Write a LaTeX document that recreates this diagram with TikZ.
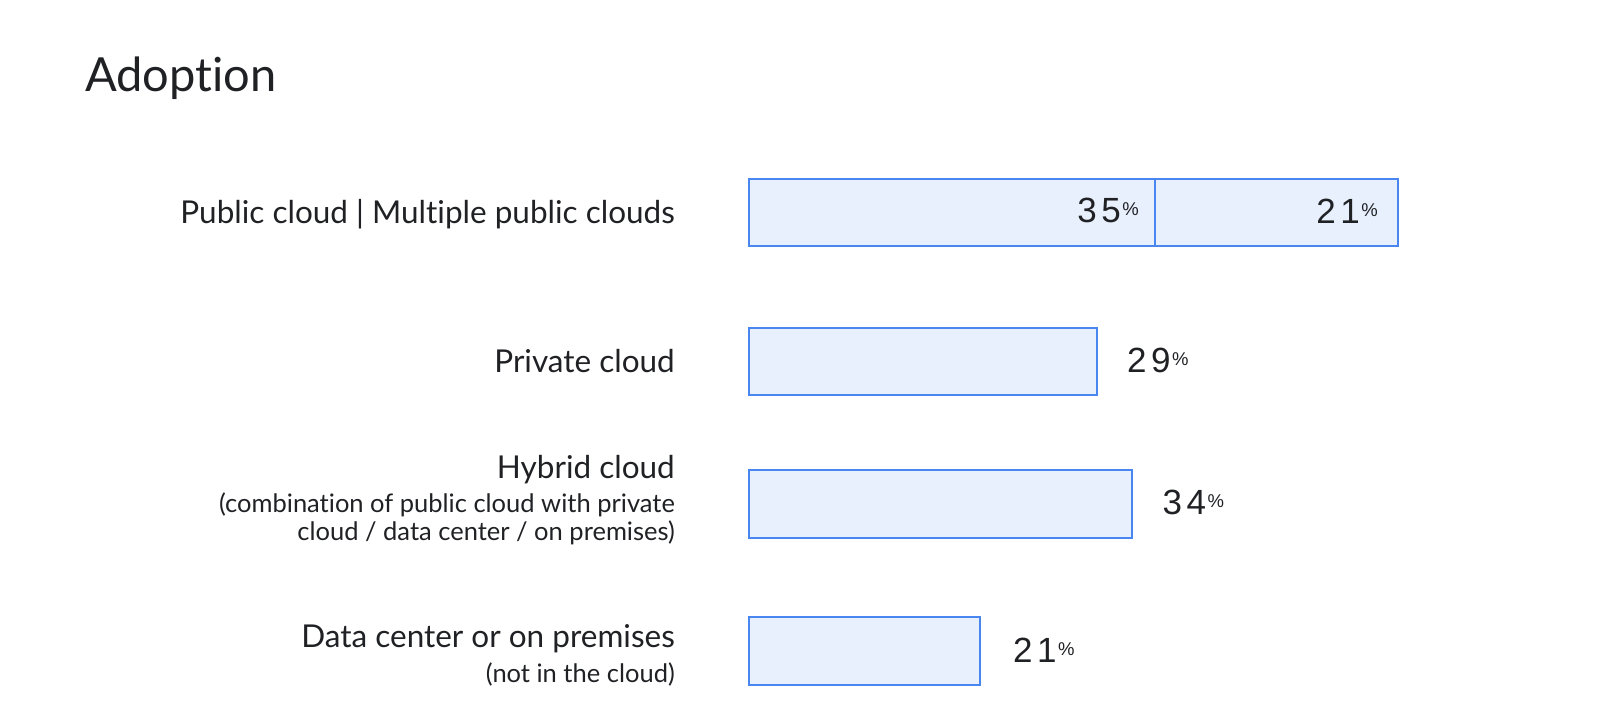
\documentclass[tikz,border=0pt]{standalone}
\usepackage{fontspec}
\setmainfont{Lato}[Ligatures={NoCommon,NoRare},RawFeature={-liga}]
\newfontfamily\numfont{Liberation Sans}
\definecolor{barfill}{HTML}{E8F0FE}
\definecolor{barline}{HTML}{4A86F0}
\definecolor{txt}{HTML}{202124}
\newcommand{\pct}[2]{{\numfont\fontsize{35}{36}\selectfont #1\kern4.5pt#2}\kern1.5pt\raisebox{6.5pt}{\numfont\fontsize{18.5}{18}\selectfont\%}}
\begin{document}
\begin{tikzpicture}[x=1pt,y=-1pt,
  bar/.style={draw=barline,fill=barfill,line width=2pt},
  lab/.style={anchor=base east,inner sep=0pt,text=txt,font=\fontsize{31.5}{36}\selectfont},
  sub/.style={anchor=base east,inner sep=0pt,text=txt,font=\fontsize{25.5}{30}\selectfont},
  val/.style={inner sep=0pt,text=txt}]
\useasboundingbox (0,0) rectangle (1600,726);
\fill[white] (0,0) rectangle (1600,726);
\node[anchor=base west,inner sep=0pt,text=txt,font=\fontsize{47}{52}\selectfont] (title) at (85,91) {Adoption};
% bars
\draw[bar] (749,179) rectangle (1155,246);
\draw[bar] (1155,179) rectangle (1398,246);
\draw[bar] (749,328) rectangle (1097,395);
\draw[bar] (749,470) rectangle (1132,538);
\draw[bar] (749,617) rectangle (980,685);
% values
\node[val,anchor=base east] (v1) at (1139,222) {\pct{3}{5}};
\node[val,anchor=base east] (v2) at (1378,223) {\pct{2}{1}};
\node[val,anchor=base west] (v3) at (1127,372) {\pct{2}{9}};
\node[val,anchor=base west] (v4) at (1162.5,514) {\pct{3}{4}};
\node[val,anchor=base west] (v5) at (1013,662) {\pct{2}{1}};
% labels
\node[lab] (l1) at (675,223) {Public cloud | Multiple public clouds};
\node[lab] (l2) at (675,372) {Private cloud};
\node[lab] (l3) at (675,478) {Hybrid cloud};
\node[sub] (l3a) at (675,512) {(combination of public cloud with private};
\node[sub] (l3b) at (675,540) {cloud / data center / on premises)};
\node[lab] (l4) at (675,647) {Data center or on premises};
\node[sub] (l4a) at (675,682) {(not in the cloud)};
\end{tikzpicture}
\end{document}
